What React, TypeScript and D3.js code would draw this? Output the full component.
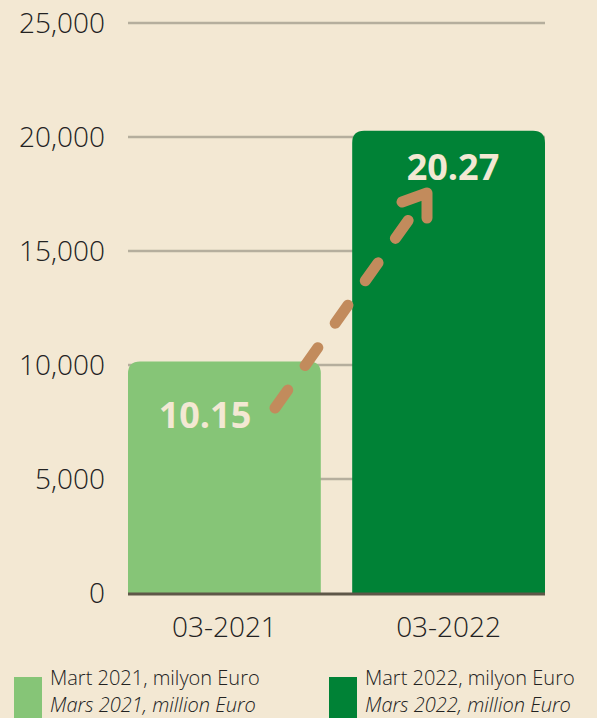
import React from "react";
import * as d3 from "d3";

const categories = ["03-2021", "03-2022"];
const values = [10150, 20270];
const valueLabels = ["10.15", "20.27"];
const yTicks = [0, 5000, 10000, 15000, 20000, 25000];
const legendLines = [
  ["Mart 2021, milyon Euro", "Mars 2021, million Euro"],
  ["Mart 2022, milyon Euro", "Mars 2022, million Euro"],
];
const colors = ["#86C577", "#008236"];

const W = 597, H = 718;
const bg = "#F3E8D3";
const font = "'Open Sans', sans-serif";

export default function App() {
  const y = d3.scaleLinear().domain([0, 25000]).range([593, 23]);
  const x = d3.scaleBand().domain(categories).range([128, 545]).paddingInner(0.14).paddingOuter(0);
  const fmt = d3.format(",");
  const r = 12;
  const barPath = (x0: number, x1: number, yt: number, yb: number) =>
    `M${x0},${yb}V${yt + r}Q${x0},${yt} ${x0 + r},${yt}H${x1 - r}Q${x1},${yt} ${x1},${yt + r}V${yb}Z`;

  const arrowStart: [number, number] = [275, 408];
  const arrowEnd: [number, number] = [412, 215];
  const line = d3.line();

  return (
    <svg width={W} height={H} style={{ position: "absolute", left: 0, top: 0, background: bg }}>
      <rect x={0} y={0} width={W} height={H} fill={bg} />
      {yTicks.map((t) => (
        <g key={t}>
          {t > 0 && <line x1={128} x2={545} y1={y(t)} y2={y(t)} stroke="#B5AE9D" strokeWidth={2.5} />}
          <text x={105} y={y(t) + 10} textAnchor="end" fontFamily={font} fontWeight={300} fontSize={28} fill="#222">
            {fmt(t)}
          </text>
        </g>
      ))}
      {categories.map((c, i) => {
        const x0 = x(c)!;
        const x1 = x0 + x.bandwidth();
        return <path key={c} d={barPath(x0, x1, y(values[i]), y(0))} fill={colors[i]} />;
      })}
      <line x1={128} x2={545} y1={y(0) + 1} y2={y(0) + 1} stroke="#5E5748" strokeWidth={3} />
      {categories.map((c) => (
        <text key={c} x={x(c)! + x.bandwidth() / 2} y={637} textAnchor="middle" fontFamily={font} fontWeight={300} fontSize={28} fill="#222">
          {c}
        </text>
      ))}
      <text x={205} y={428} textAnchor="middle" fontFamily={font} fontWeight={700} fontSize={36} fill={bg}>
        {valueLabels[0]}
      </text>
      <text x={453} y={180} textAnchor="middle" fontFamily={font} fontWeight={700} fontSize={36} fill={bg}>
        {valueLabels[1]}
      </text>
      <path
        d={line([arrowStart, arrowEnd])!}
        stroke="#C28B5C"
        strokeWidth={11}
        strokeLinecap="round"
        strokeDasharray="22 30"
        fill="none"
      />
      <path
        d={line([[402, 202], [427, 193], [427, 218]])!}
        stroke="#C28B5C"
        strokeWidth={11}
        strokeLinecap="round"
        strokeLinejoin="round"
        fill="none"
      />
      {legendLines.map((lines, i) => {
        const lx = i === 0 ? 14 : 329;
        return (
          <g key={i}>
            <rect x={lx} y={677} width={28} height={45} fill={colors[i]} />
            <text x={lx + 36} y={685} fontFamily={font} fontWeight={300} fontSize={20} fill="#222">
              {lines[0]}
            </text>
            <text x={lx + 36} y={712} fontFamily={font} fontWeight={300} fontStyle="italic" fontSize={20} fill="#222">
              {lines[1]}
            </text>
          </g>
        );
      })}
    </svg>
  );
}
